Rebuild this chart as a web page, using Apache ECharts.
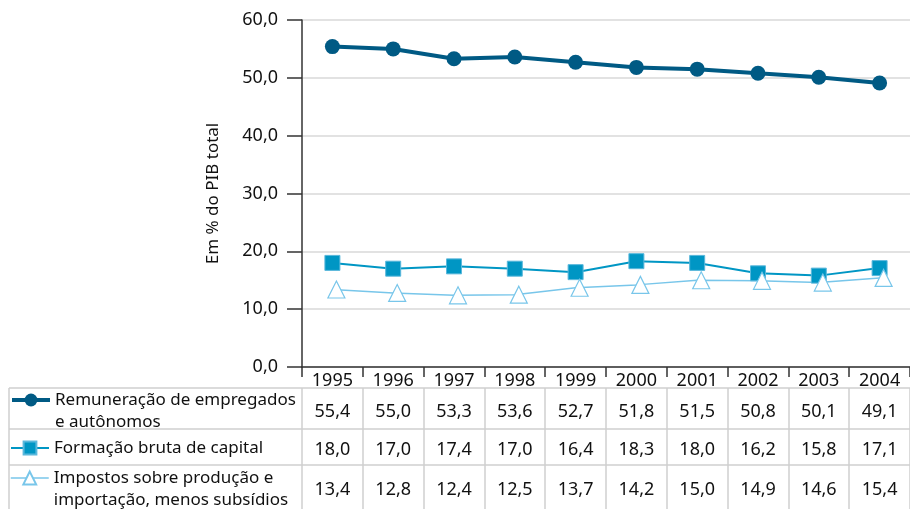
<!DOCTYPE html>
<html>
<head>
<meta charset="utf-8">
<script src="https://cdn.jsdelivr.net/npm/echarts@6/dist/echarts.min.js"></script>
<style>
  html, body { margin: 0; padding: 0; background: #fff; }
  #chart { width: 910px; height: 509px; }
</style>
</head>
<body>
<div id="chart"></div>
<script>
// dados
const anos = ['1995', '1996', '1997', '1998', '1999', '2000', '2001', '2002', '2003', '2004']
const remuneracao = [55.4, 55.0, 53.3, 53.6, 52.7, 51.8, 51.5, 50.8, 50.1, 49.1]
const formacao = [18.0, 17.0, 17.4, 17.0, 16.4, 18.3, 18.0, 16.2, 15.8, 17.1]
const impostos = [13.4, 12.8, 12.4, 12.5, 13.7, 14.2, 15.0, 14.9, 14.6, 15.4]
const yTicks = [0, 10, 20, 30, 40, 50, 60]

const nomes = [
  'Remuneração de empregados e autônomos',
  'Formação bruta de capital',
  'Impostos sobre produção e importação, menos subsídios'
]
// linha vazia no início: o ícone fica alinhado com a primeira linha do texto
const nomesLegenda = {
  [nomes[0]]: ' \nRemuneração de empregados\ne autônomos',
  [nomes[1]]: 'Formação bruta de capital',
  [nomes[2]]: ' \nImpostos sobre produção e\nimportação, menos subsídios'
}

const fonte = '"Noto Sans", sans-serif'
const fmt = v => v.toFixed(1).replace('.', ',')

const chart = echarts.init(document.getElementById('chart'))

// uma legenda por linha da tabela
const legenda = (i, top, largura) => ({
  data: [nomes[i]],
  left: 10,
  top: top,
  padding: 0,
  itemWidth: 38,
  itemHeight: 16,
  lineStyle: { width: largura },
  formatter: n => nomesLegenda[n],
  textStyle: { fontFamily: fonte, fontSize: 17, color: '#111', lineHeight: 22 }
})

const option = {
  animation: false,
  textStyle: { fontFamily: fonte },
  legend: [legenda(0, 367, 4), legenda(1, 437, 2), legenda(2, 445, 1.5)],
  grid: [
    { left: 302, right: 0, top: 20, bottom: 142 },
    { left: 302, right: 0, top: 388, bottom: 0 }
  ],
  xAxis: [
    {
      type: 'category',
      data: anos,
      gridIndex: 0,
      axisLine: { lineStyle: { color: '#333', width: 1.5 } },
      axisTick: { show: true, length: 10, lineStyle: { color: '#333', width: 1.5 } },
      axisLabel: {
        margin: 3,
        interval: 0,
        color: '#111',
        fontSize: 18,
        formatter: (v, i) => '{y|' + v + '}\n{a|' + fmt(remuneracao[i]) + '}\n{b|' + fmt(formacao[i]) + '}\n{c|' + fmt(impostos[i]) + '}',
        rich: {
          y: { fontSize: 18, lineHeight: 21, color: '#111', fontFamily: fonte },
          a: { fontSize: 18, lineHeight: 41, color: '#111', fontFamily: fonte },
          b: { fontSize: 18, lineHeight: 36, color: '#111', fontFamily: fonte },
          c: { fontSize: 18, lineHeight: 44, color: '#111', fontFamily: fonte }
        }
      }
    },
    {
      type: 'category',
      data: anos,
      gridIndex: 1,
      axisLine: { show: false },
      axisTick: { show: false },
      axisLabel: { show: false },
      splitLine: { show: true, lineStyle: { color: '#cfcfcf', width: 1.5 } }
    }
  ],
  yAxis: [
    {
      type: 'value',
      gridIndex: 0,
      min: 0,
      max: 60,
      interval: 10,
      name: 'Em % do PIB total',
      nameLocation: 'middle',
      nameGap: 80,
      nameTextStyle: { fontSize: 17, color: '#111', fontFamily: fonte },
      axisLine: { show: true, lineStyle: { color: '#333', width: 1.5 } },
      axisTick: { show: true, length: 15, lineStyle: { color: '#333', width: 1.5 } },
      axisLabel: { margin: 24, color: '#111', fontSize: 18, formatter: v => fmt(v) },
      splitLine: { show: true, lineStyle: { color: '#d9d9d9', width: 1.5 } }
    },
    {
      type: 'value',
      gridIndex: 1,
      show: false
    }
  ],
  graphic: [
    { type: 'line', shape: { x1: 9, y1: 388, x2: 910, y2: 388 }, style: { stroke: '#cfcfcf', lineWidth: 1.5 } },
    { type: 'line', shape: { x1: 9, y1: 429, x2: 910, y2: 429 }, style: { stroke: '#cfcfcf', lineWidth: 1.5 } },
    { type: 'line', shape: { x1: 9, y1: 465, x2: 910, y2: 465 }, style: { stroke: '#cfcfcf', lineWidth: 1.5 } },
    { type: 'line', shape: { x1: 9, y1: 388, x2: 9, y2: 509 }, style: { stroke: '#cfcfcf', lineWidth: 1.5 } }
  ],
  series: [
    {
      name: nomes[0],
      type: 'line',
      data: remuneracao,
      symbol: 'circle',
      symbolSize: 15,
      color: '#005a84',
      lineStyle: { width: 4, color: '#005a84' },
      itemStyle: { color: '#005a84' }
    },
    {
      name: nomes[1],
      type: 'line',
      data: formacao,
      symbol: 'rect',
      symbolSize: 15,
      color: '#0096c4',
      lineStyle: { width: 2, color: '#0096c4' },
      itemStyle: { color: '#0096c4', borderColor: '#5ab8dc', borderWidth: 1 }
    },
    {
      name: nomes[2],
      type: 'line',
      data: impostos,
      symbol: 'triangle',
      symbolSize: 17,
      symbolOffset: [4, 0],
      color: '#78c6ea',
      lineStyle: { width: 1.5, color: '#78c6ea' },
      itemStyle: { color: '#fff', borderColor: '#78c6ea', borderWidth: 1.2 }
    }
  ]
}

chart.setOption(option)

window.onresize = () => {
  chart.resize()
}
</script>
</body>
</html>
